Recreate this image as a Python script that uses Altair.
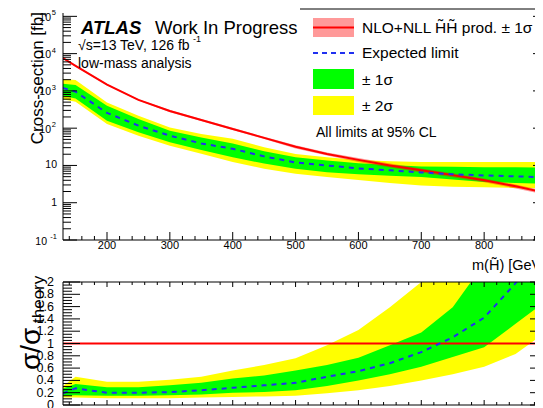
import altair as alt
import pandas as pd

# ---------------- data ----------------
mass = [130, 150, 200, 250, 300, 350, 400, 450, 500, 550, 600, 650, 700, 750, 800, 850, 900]
theory = [7586, 4677, 1479, 575, 288, 166, 95.5, 55, 31.6, 20.4, 14.1, 10, 7.4, 5.5, 4.0, 2.75, 1.82]
theory_rel = [0.04, 0.045, 0.045, 0.045, 0.068, 0.068, 0.068, 0.068, 0.094, 0.094, 0.12, 0.12, 0.12, 0.12, 0.12, 0.12, 0.12]
exp_top = [1200, 950, 257, 117, 63, 39, 28, 17.5, 12, 10, 8.3, 7.4, 6.5, 5.8, 5.4, 5.1, 4.8]
g_hi_top = [1550, 1450, 400, 177, 85, 56, 39, 24, 16.7, 13.6, 11.5, 10.3, 9.4, 9.2, 9.0, 8.9, 8.8]
g_lo_top = [740, 630, 158, 78, 42, 26, 16.6, 11.2, 8.1, 6.6, 5.8, 5.3, 4.9, 4.2, 3.6, 3.4, 3.2]
y_hi_top = [2040, 1950, 490, 215, 105, 70, 52, 31, 20.4, 16.7, 14, 13, 12.3, 12.3, 12.3, 12.3, 12.3]
y_lo_top = [600, 510, 129, 63, 34, 20.5, 12.3, 8.2, 6.0, 4.9, 4.1, 3.4, 2.9, 2.7, 2.6, 2.5, 2.4]

r_exp = [0.19, 0.27, 0.2, 0.2, 0.21, 0.24, 0.28, 0.32, 0.36, 0.46, 0.55, 0.68, 0.86, 1.1, 1.42, 1.98, 2.7]
r_g_hi = [0.27, 0.34, 0.29, 0.29, 0.32, 0.36, 0.43, 0.48, 0.56, 0.65, 0.77, 0.97, 1.18, 1.59, 2.3, 3.2, 4.9]
r_g_lo = [0.15, 0.16, 0.15, 0.15, 0.16, 0.17, 0.2, 0.21, 0.24, 0.31, 0.4, 0.5, 0.62, 0.78, 0.94, 1.32, 1.7]
r_y_hi = [0.31, 0.46, 0.38, 0.38, 0.41, 0.46, 0.56, 0.65, 0.76, 0.97, 1.22, 1.59, 2.0, 2.2, 3.1, 4.5, 6.9]
r_y_lo = [0.12, 0.12, 0.11, 0.11, 0.11, 0.12, 0.13, 0.14, 0.15, 0.19, 0.24, 0.31, 0.4, 0.5, 0.62, 0.83, 1.2]

rb_edges = [130, 150, 200, 300, 500, 600, 900]
rb_half = [0.04, 0.045, 0.045, 0.068, 0.094, 0.12]
ratio_ref = [1.0]

x_major = [200, 300, 400, 500, 600, 700, 800, 900]
x_labels = ["200", "300", "400", "500", "600", "700", "800", "900"]
x_minor = [m for m in range(140, 901, 20) if m % 100 != 0]
top_major = [0.1, 1, 10, 100, 1000, 1e4, 1e5]
top_minor = [k * 10.0 ** e for e in range(-1, 5) for k in range(2, 10)]
dec_plain = [1, 10]
dec_plain_lab = ["1", "10"]
dec_exp = [100, 1000, 1e4, 1e5]
dec_exp_lab = ["2", "3", "4", "5"]
dec_neg = [0.1]
dec_neg_lab = ["-1"]
r_major = [0, 0.2, 0.4, 0.6, 0.8, 1.0, 1.2, 1.4, 1.6, 1.8, 2.0]
r_labels = ["0", "0.2", "0.4", "0.6", "0.8", "1", "1.2", "1.4", "1.6", "1.8", "2"]
r_minor = [i * 0.05 for i in range(41) if i % 4 != 0]

# ---------------- layout constants ----------------
W, HT, HB = 484, 227, 123
FONT = "Liberation Sans"
xs = alt.Scale(domain=[130, 900])
ys_top = alt.Scale(type="log", domain=[0.1, 1.23e5])
ys_bot = alt.Scale(domain=[0, 2])
dummy = pd.DataFrame({"d": [0]})

top_df = pd.DataFrame(dict(
    m=mass, th=theory,
    thlo=[t * (1 - r) for t, r in zip(theory, theory_rel)],
    thhi=[t * (1 + r) for t, r in zip(theory, theory_rel)],
    ex=exp_top, glo=g_lo_top, ghi=g_hi_top, ylo=y_lo_top, yhi=y_hi_top))
bot_df = pd.DataFrame(dict(m=mass, ex=r_exp, glo=r_g_lo, ghi=r_g_hi, ylo=r_y_lo, yhi=r_y_hi))
rows = []
for i, h in enumerate(rb_half):
    rows.append(dict(m=rb_edges[i], lo=1 - h, hi=1 + h, o=2 * i))
    rows.append(dict(m=rb_edges[i + 1], lo=1 - h, hi=1 + h, o=2 * i + 1))
rb_df = pd.DataFrame(rows)


def X(f="m"):
    return alt.X(f"{f}:Q", scale=xs, axis=None)


def YT(f):
    return alt.Y(f"{f}:Q", scale=ys_top, axis=None)


def YB(f):
    return alt.Y(f"{f}:Q", scale=ys_bot, axis=None)


def txt(s, x, y, size, **kw):
    return alt.Chart(dummy).mark_text(text=s, font=FONT, fontSize=size, **kw).encode(
        x=alt.value(x), y=alt.value(y))


def hrule(x1, x2, y, **kw):
    return alt.Chart(dummy).mark_rule(**kw).encode(x=alt.value(x1), x2=alt.value(x2), y=alt.value(y))


def vrule(x, y1, y2, **kw):
    return alt.Chart(dummy).mark_rule(**kw).encode(x=alt.value(x), y=alt.value(y1), y2=alt.value(y2))


# ---------------- top panel ----------------
t_layers = [
    alt.Chart(top_df).mark_area(color="#ffff00", clip=True).encode(x=X(), y=YT("ylo"), y2="yhi:Q"),
    alt.Chart(top_df).mark_area(color="#00ff00", clip=True).encode(x=X(), y=YT("glo"), y2="ghi:Q"),
    alt.Chart(top_df).mark_area(color="#ff0000", opacity=0.4, clip=True).encode(x=X(), y=YT("thlo"), y2="thhi:Q"),
    alt.Chart(top_df).mark_line(color="#ff0000", strokeWidth=2, clip=True).encode(x=X(), y=YT("th")),
    alt.Chart(top_df).mark_line(color="#2030f0", strokeWidth=2, strokeDash=[5, 5], clip=True).encode(x=X(), y=YT("ex")),
]
# ticks
for vals, L in [(top_major, 14), (top_minor, 8)]:
    d = pd.DataFrame({"v": vals})
    t_layers.append(alt.Chart(d).mark_rule(color="black").encode(y=YT("v"), x=alt.value(0), x2=alt.value(L)))
    t_layers.append(alt.Chart(d).mark_rule(color="black").encode(y=YT("v"), x=alt.value(W - L), x2=alt.value(W)))
for vals, L in [(x_major, 8), (x_minor, 4)]:
    d = pd.DataFrame({"v": vals})
    t_layers.append(alt.Chart(d).mark_rule(color="black").encode(x=X("v"), y=alt.value(HT), y2=alt.value(HT - L)))
# frame
t_layers += [
    vrule(0, 0, HT, color="black"),
    vrule(W, 0, HT, color="black"),
    hrule(0, W, HT, color="black"),
    hrule(237, W, -4, color="black"),
]
# y tick labels
t_layers.append(alt.Chart(pd.DataFrame({"v": dec_plain, "t": dec_plain_lab})).mark_text(
    font=FONT, fontSize=10.5, align="right", baseline="middle").encode(y=YT("v"), text="t:N", x=alt.value(-6)))
t_layers.append(alt.Chart(pd.DataFrame({"v": dec_exp, "t": dec_exp_lab})).mark_text(
    font=FONT, fontSize=10.5, align="right", baseline="middle", dy=1.5, text="10").encode(y=YT("v"), x=alt.value(-12)))
t_layers.append(alt.Chart(pd.DataFrame({"v": dec_exp, "t": dec_exp_lab})).mark_text(
    font=FONT, fontSize=7.5, align="right", baseline="middle", dy=-3).encode(y=YT("v"), text="t:N", x=alt.value(-7)))
t_layers.append(alt.Chart(pd.DataFrame({"v": dec_neg, "t": dec_neg_lab})).mark_text(
    font=FONT, fontSize=10.5, align="right", baseline="middle", dy=1.5, text="10").encode(y=YT("v"), x=alt.value(-16)))
t_layers.append(alt.Chart(pd.DataFrame({"v": dec_neg, "t": dec_neg_lab})).mark_text(
    font=FONT, fontSize=7.5, align="right", baseline="middle", dy=-3).encode(y=YT("v"), text="t:N", x=alt.value(-6)))
# x tick labels
t_layers.append(alt.Chart(pd.DataFrame({"v": x_major, "t": x_labels})).mark_text(
    font=FONT, fontSize=11, align="center", baseline="middle").encode(x=X("v"), text="t:N", y=alt.value(233)))
# axis titles
t_layers.append(txt("m(H\u0303) [GeV]", 409, 253, 14.5, align="left", baseline="middle"))
t_layers.append(txt("Cross-section [fb]", -25, -1, 17, align="right", angle=270))
# ATLAS label
t_layers.append(txt("ATLAS", 18, 15, 18.5, fontWeight="bold", fontStyle="italic", align="left"))
t_layers.append(txt("Work In Progress", 92, 15, 18.5, align="left"))
t_layers.append(txt("\u221as=13 TeV, 126 fb", 15, 33, 14, align="left"))
t_layers.append(txt("-1", 130, 26, 9, align="left", baseline="middle"))
t_layers.append(txt("low-mass analysis", 15, 51, 14, align="left"))
# legend
t_layers += [
    alt.Chart(dummy).mark_rect(color="#ff0000", opacity=0.4).encode(
        x=alt.value(250), x2=alt.value(291), y=alt.value(5), y2=alt.value(24)),
    hrule(250, 291, 14.5, color="#ff0000", strokeWidth=2),
    hrule(250, 291, 40, color="#2030f0", strokeWidth=2, strokeDash=[5, 4]),
    alt.Chart(dummy).mark_rect(color="#00ff00").encode(
        x=alt.value(250), x2=alt.value(291), y=alt.value(56), y2=alt.value(76)),
    alt.Chart(dummy).mark_rect(color="#ffff00").encode(
        x=alt.value(250), x2=alt.value(291), y=alt.value(83), y2=alt.value(102)),
    txt("NLO+NLL H\u0303H\u0303 prod. \u00b1 1\u03c3", 299, 15, 15.5, align="left", baseline="middle"),
    txt("Expected limit", 299, 40, 15.5, align="left", baseline="middle"),
    txt("\u00b1 1\u03c3", 299, 67, 15.5, align="left", baseline="middle"),
    txt("\u00b1 2\u03c3", 299, 93, 15.5, align="left", baseline="middle"),
    txt("All limits at 95% CL", 253, 120, 14, align="left", baseline="middle"),
]
top = alt.layer(*t_layers).properties(width=W, height=HT)

# ---------------- bottom (ratio) panel ----------------
b_layers = [
    alt.Chart(bot_df).mark_area(color="#ffff00", clip=True).encode(x=X(), y=YB("ylo"), y2="yhi:Q"),
    alt.Chart(bot_df).mark_area(color="#00ff00", clip=True).encode(x=X(), y=YB("glo"), y2="ghi:Q"),
    alt.Chart(rb_df).mark_area(color="#ff0000", opacity=0.4, clip=True).encode(
        x=X(), y=YB("lo"), y2="hi:Q", order="o:Q"),
    alt.Chart(pd.DataFrame({"v": ratio_ref})).mark_rule(color="#ff0000", strokeWidth=2).encode(
        y=YB("v"), x=alt.value(0), x2=alt.value(W)),
    alt.Chart(bot_df).mark_line(color="#2030f0", strokeWidth=2, strokeDash=[5, 5], clip=True).encode(x=X(), y=YB("ex")),
]
for vals, L in [(r_major, 17), (r_minor, 9)]:
    d = pd.DataFrame({"v": vals})
    b_layers.append(alt.Chart(d).mark_rule(color="black").encode(y=YB("v"), x=alt.value(0), x2=alt.value(L)))
    b_layers.append(alt.Chart(d).mark_rule(color="black").encode(y=YB("v"), x=alt.value(W - L), x2=alt.value(W)))
for vals, L in [(x_major, 5), (x_minor, 3)]:
    d = pd.DataFrame({"v": vals})
    b_layers.append(alt.Chart(d).mark_rule(color="black").encode(x=X("v"), y=alt.value(0), y2=alt.value(L)))
    b_layers.append(alt.Chart(d).mark_rule(color="black").encode(x=X("v"), y=alt.value(HB), y2=alt.value(HB - L)))
b_layers += [
    vrule(0, 0, HB, color="black"),
    vrule(W, 0, HB, color="black"),
    hrule(0, W, 0, color="black"),
    hrule(0, W, HB, color="black"),
]
b_layers.append(alt.Chart(pd.DataFrame({"v": r_major, "t": r_labels})).mark_text(
    font=FONT, fontSize=12.5, align="right", baseline="middle").encode(y=YB("v"), text="t:N", x=alt.value(-9)))
b_layers.append(txt("\u03c3/\u03c3", -31, 88, 28, align="left", angle=270))
b_layers.append(txt("theory", -24, 41, 17, align="left", angle=270))
bottom = alt.layer(*b_layers).properties(width=W, height=HB)

chart = alt.vconcat(top, bottom, spacing=42, bounds="flush").properties(
    autosize=alt.AutoSizeParams(type="none"),
    padding={"left": 55, "top": 5, "right": -12, "bottom": 395},
).configure_view(stroke=None)

chart.save("out.html", embed_options={"renderer": "svg", "actions": False})
